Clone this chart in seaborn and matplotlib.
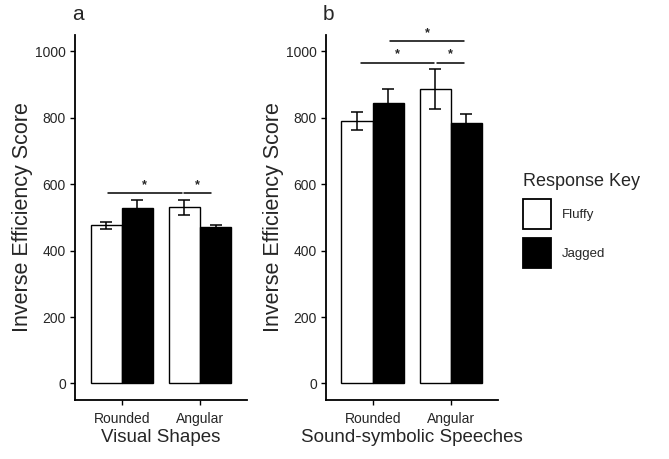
import matplotlib
matplotlib.use("Agg")
import matplotlib.pyplot as plt
from matplotlib.patches import Patch
import seaborn as sns
import pandas as pd

# values (means and standard errors)
shapes = ["Rounded", "Angular"]
keys = ["Fluffy", "Jagged"]

visual_fluffy = [476, 530]
visual_jagged = [527, 470]
visual_fluffy_se = [10, 24]
visual_jagged_se = [27, 8]

speech_fluffy = [791, 887]
speech_jagged = [844, 783]
speech_fluffy_se = [28, 59]
speech_jagged_se = [42, 29]

sns.set_style("ticks")
plt.rcParams["font.family"] = ["Liberation Sans", "DejaVu Sans"]

def make_df(fluffy, jagged, fluffy_se, jagged_se):
    rows = []
    for i, s in enumerate(shapes):
        rows.append({"shape": s, "key": "Fluffy", "score": fluffy[i], "se": fluffy_se[i]})
        rows.append({"shape": s, "key": "Jagged", "score": jagged[i], "se": jagged_se[i]})
    return pd.DataFrame(rows)

visual = make_df(visual_fluffy, visual_jagged, visual_fluffy_se, visual_jagged_se)
speech = make_df(speech_fluffy, speech_jagged, speech_fluffy_se, speech_jagged_se)

fig = plt.figure(figsize=(6.69, 4.59), dpi=100)
ax_a = fig.add_axes([0.112, 0.1285, 0.257, 0.7956])
ax_b = fig.add_axes([0.487, 0.1285, 0.257, 0.7956])

palette = {"Fluffy": "white", "Jagged": "black"}

def draw_panel(ax, df, xlabel, letter, brackets):
    sns.barplot(data=df, x="shape", y="score", hue="key", order=shapes,
                hue_order=keys, palette=palette, edgecolor="black",
                linewidth=1.0, errorbar=None, width=0.8, legend=False, ax=ax)
    # error bars at the bar centres
    for key, cont in zip(keys, ax.containers):
        sub = df[df["key"] == key].set_index("shape").loc[shapes]
        xs = [p.get_x() + p.get_width() / 2 for p in cont.patches]
        ax.errorbar(xs, sub["score"], yerr=sub["se"], fmt="none",
                    ecolor="black", elinewidth=1.1, capsize=4.5,
                    capthick=1.1, zorder=5)
    for x1, x2, y, ys in brackets:
        ax.plot([x1, x2], [y, y], color="black", lw=1.1, clip_on=False)
        ax.text((x1 + x2) / 2, ys, "*", ha="center", va="center",
                fontsize=9, fontweight="bold", clip_on=False)
    ax.set_ylim(-50, 1050)
    ax.set_xlim(-0.6, 1.6)
    ax.set_yticks([0, 200, 400, 600, 800, 1000])
    ax.set_xlabel(xlabel, fontsize=13.5, labelpad=2)
    ax.set_ylabel("Inverse Efficiency Score", fontsize=15.5, labelpad=1.5)
    ax.tick_params(axis="both", labelsize=10, length=3.5, width=1,
                   color="black", pad=3)
    ax.tick_params(axis="x", pad=5)
    for side in ["top", "right"]:
        ax.spines[side].set_visible(False)
    for side in ["left", "bottom"]:
        ax.spines[side].set_linewidth(1.3)
        ax.spines[side].set_color("black")
    pos = ax.get_position()
    fig.text(pos.x0 - 0.004, 0.968, letter, fontsize=15, ha="left", va="center")

draw_panel(ax_a, visual, "Visual Shapes", "a",
           [(-0.18, 0.77, 573, 597), (0.79, 1.14, 573, 597)])
draw_panel(ax_b, speech, "Sound-symbolic Speeches", "b",
           [(-0.15, 0.79, 966, 993), (0.82, 1.17, 966, 993),
            (0.22, 1.17, 1030, 1056)])

handles = [Patch(facecolor=palette[k], edgecolor="black", linewidth=1.3, label=k)
           for k in keys]
fig.legend(handles=handles, title="Response Key", loc="upper left",
           bbox_to_anchor=(0.764, 0.65), frameon=False, fontsize=9.5,
           title_fontsize=13, handlelength=2.15, handleheight=3.1,
           labelspacing=0.72, handletextpad=0.8, alignment="left")

fig.savefig("out.png", dpi=100)
